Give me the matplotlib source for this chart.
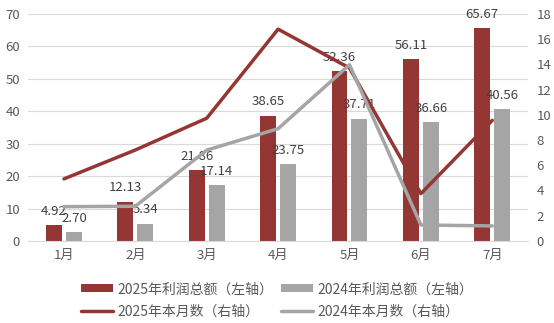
import numpy as np
import matplotlib
matplotlib.use('Agg')
import matplotlib.pyplot as plt

plt.rcParams['font.family'] = ['Noto Sans CJK SC', 'DejaVu Sans']

months = ['1月', '2月', '3月', '4月', '5月', '6月', '7月']
profit2025 = [4.92, 12.13, 21.86, 38.65, 52.36, 56.11, 65.67]
profit2024 = [2.70, 5.34, 17.14, 23.75, 37.71, 36.66, 40.56]
month2025 = [4.92, 7.21, 9.73, 16.79, 13.71, 3.75, 9.56]
month2024 = [2.72, 2.75, 7.2, 8.9, 13.97, 1.27, 1.19]

red = '#943634'
gray = '#A5A5A5'
txt = '#595959'

fig = plt.figure(figsize=(5.54, 3.23), dpi=100)
ax = fig.add_axes([0.051, 0.254, 0.902, 0.703])
ax2 = ax.twinx()

x = np.arange(len(months))
w = 0.224
off = 0.14
b1 = ax.bar(x - off, profit2025, w, color=red, label='2025年利润总额（左轴）', zorder=2)
b2 = ax.bar(x + off, profit2024, w, color=gray, label='2024年利润总额（左轴）', zorder=2)

for xi, v in zip(x, profit2025):
    ax.text(xi - off, v + 2.2, f'{v:.2f}', ha='center', va='bottom', fontsize=9.5, color='#404040')
for xi, v in zip(x, profit2024):
    ax.text(xi + off, v + 2.2, f'{v:.2f}', ha='center', va='bottom', fontsize=9.5, color='#404040')

l1, = ax2.plot(x, month2025, color=red, lw=2.5, label='2025年本月数（右轴）', solid_capstyle='round')
l2, = ax2.plot(x, month2024, color=gray, lw=2.5, label='2024年本月数（右轴）', solid_capstyle='round')

ax.set_xlim(-0.5, 6.5)
ax.set_ylim(0, 70)
ax.set_yticks(np.arange(0, 71, 10))
ax2.set_ylim(0, 18)
ax2.set_yticks(np.arange(0, 19, 2))
ax.set_xticks(x)
ax.set_xticklabels(months)

ax.grid(axis='y', color='#D9D9D9', lw=0.8, zorder=0)
ax.set_axisbelow(True)
for a in (ax, ax2):
    for s in a.spines.values():
        s.set_visible(False)
    a.tick_params(length=0, labelsize=9.5, colors=txt)
ax.spines['bottom'].set_visible(True)
ax.spines['bottom'].set_color('#D9D9D9')
ax.tick_params(axis='y', pad=6)
ax2.tick_params(axis='y', pad=6)
ax.tick_params(axis='x', pad=6)

# fill column-wise: bars on first row, lines on second
handles = [b1, l1, b2, l2]
fig.legend(handles, [h.get_label() for h in handles],
           loc='lower center', bbox_to_anchor=(0.5, -0.025), ncol=2, frameon=False,
           fontsize=10, labelcolor=txt, handlelength=2.3, handleheight=0.5,
           columnspacing=0.6, handletextpad=0.3, labelspacing=0.6)

fig.savefig('out.png', dpi=100)
